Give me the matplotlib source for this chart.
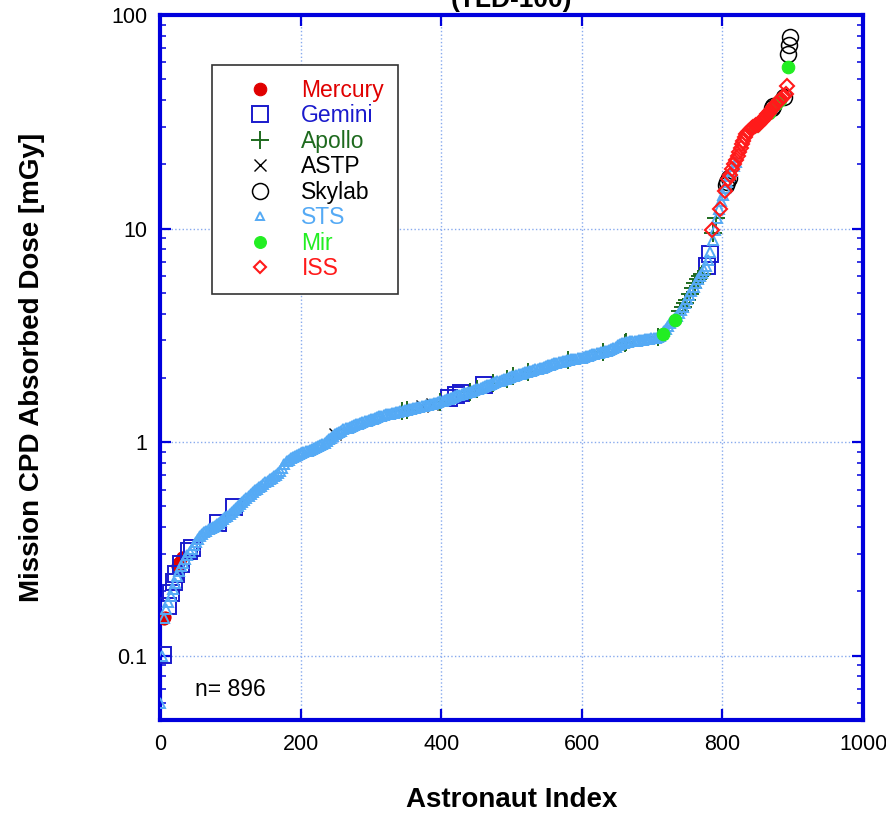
import numpy as np
import matplotlib
matplotlib.use('Agg')
import matplotlib.pyplot as plt
from matplotlib.ticker import FixedLocator, FuncFormatter, LogLocator, NullFormatter

plt.rcParams['font.family'] = ['Liberation Sans', 'DejaVu Sans']

# rangi astronautow (indeks) i dawka CPD [mGy] dla kazdego programu
mercury_idx = [5, 7, 24, 26, 28, 31]
mercury_dose = [0.148, 0.152, 0.262, 0.272, 0.278, 0.29]

gemini_idx = [4, 11, 16, 20, 23, 30, 41, 46, 83, 105, 411, 421, 428, 461, 778, 783]
gemini_dose = [0.101, 0.171, 0.197, 0.222, 0.242, 0.269, 0.31, 0.32, 0.418, 0.497,
               1.61, 1.66, 1.69, 1.85, 6.7, 7.6]

apollo_idx = [344, 351, 398, 441, 451, 474, 493, 502, 524, 580, 630, 661, 663, 708,
              740, 744, 747, 750, 754, 758, 761, 765, 768, 771, 787, 791]
apollo_dose = [1.40, 1.42, 1.54, 1.72, 1.77, 1.89, 1.98, 2.03, 2.14, 2.42, 2.65, 2.92,
               2.94, 3.10, 4.10, 4.30, 4.50, 4.65, 4.95, 5.25, 5.55, 5.80, 6.0, 6.15,
               9.5, 11.2]

astp_idx = [249, 373, 387]
astp_dose = [1.09, 1.47, 1.51]

skylab_idx = [805, 807, 809, 870, 872, 887, 894, 895, 896]
skylab_dose = [16.0, 16.6, 17.2, 36.5, 37.5, 41.5, 66.0, 72.0, 79.0]

# STS - gesta seria, co 3 indeksy
sts_dose = [
    0.060, 0.100, 0.150, 0.165, 0.178, 0.190, 0.205, 0.220, 0.235, 0.250,
    0.262, 0.273, 0.284, 0.295, 0.305, 0.317, 0.330, 0.342, 0.353, 0.362,
    0.370, 0.378, 0.385, 0.391, 0.397, 0.402, 0.407, 0.413, 0.420, 0.428,
    0.436, 0.444, 0.452, 0.460, 0.470, 0.480, 0.490, 0.500, 0.512, 0.524,
    0.536, 0.548, 0.560, 0.572, 0.584, 0.595, 0.606, 0.616, 0.626, 0.637,
    0.648, 0.659, 0.670, 0.681, 0.693, 0.705, 0.718, 0.735, 0.760, 0.790,
    0.812, 0.828, 0.842, 0.853, 0.863, 0.872, 0.881, 0.889, 0.897, 0.905,
    0.913, 0.921, 0.930, 0.939, 0.949, 0.959, 0.970, 0.982, 0.995, 1.01,
    1.03, 1.05, 1.07, 1.09, 1.10, 1.12, 1.13, 1.15, 1.16, 1.17,
    1.18, 1.19, 1.20, 1.21, 1.22, 1.23, 1.24, 1.25, 1.26, 1.27,
    1.28, 1.29, 1.30, 1.31, 1.32, 1.33, 1.34, 1.35, 1.355, 1.36,
    1.37, 1.375, 1.38, 1.39, 1.40, 1.405, 1.41, 1.42, 1.425, 1.43,
    1.44, 1.45, 1.455, 1.46, 1.47, 1.48, 1.49, 1.50, 1.505, 1.51,
    1.52, 1.53, 1.54, 1.55, 1.56, 1.57, 1.585, 1.60, 1.615, 1.63,
    1.645, 1.66, 1.67, 1.68, 1.69, 1.70, 1.71, 1.72, 1.735, 1.75,
    1.765, 1.78, 1.795, 1.81, 1.83, 1.845, 1.86, 1.875, 1.89, 1.91,
    1.925, 1.94, 1.955, 1.97, 1.985, 2.00, 2.015, 2.03, 2.045, 2.06,
    2.075, 2.09, 2.105, 2.12, 2.135, 2.15, 2.16, 2.175, 2.19, 2.205,
    2.22, 2.235, 2.25, 2.27, 2.29, 2.305, 2.32, 2.335, 2.35, 2.365,
    2.38, 2.395, 2.41, 2.42, 2.43, 2.44, 2.45, 2.46, 2.47, 2.48,
    2.49, 2.50, 2.52, 2.54, 2.56, 2.575, 2.59, 2.605, 2.62, 2.635,
    2.65, 2.665, 2.68, 2.70, 2.73, 2.76, 2.80, 2.84, 2.87, 2.90,
    2.92, 2.935, 2.95, 2.96, 2.97, 2.98, 2.99, 3.00, 3.01, 3.02,
    3.03, 3.04, 3.05, 3.06, 3.07, 3.08, 3.10, 3.14, 3.20, 3.30,
    3.40, 3.50, 3.60, 3.70, 3.80, 3.90, 4.02, 4.15, 4.30, 4.48,
    4.68, 4.90, 5.12, 5.35, 5.58, 5.80, 6.00, 6.18, 6.38, 6.65,
    7.10, 7.80, 8.80, 9.90, 11.2, 12.4, 13.4, 14.4, 15.5, 16.6,
    17.6, 18.6, 19.6, 20.5,
]
sts_idx = list(range(0, 3 * len(sts_dose), 3))

mir_idx = [716, 733, 846, 866, 876, 882, 893]
mir_dose = [3.2, 3.72, 30.2, 34.9, 38.3, 40.1, 57.0]

iss_idx = [785, 797, 803, 808, 811, 814, 817,
           820, 822, 824, 826, 828, 830, 832, 834, 836, 838, 840, 842, 844, 846,
           848, 850, 852, 854, 856, 858, 860, 862, 864, 866, 868, 870, 872, 874,
           876, 878, 880, 882, 884, 886, 888, 890, 892]
iss_dose = [9.9, 12.3, 15.0, 17.0, 17.9, 19.0, 20.0,
            21.0, 21.8, 22.8, 23.8, 24.8, 25.8, 26.8, 27.6, 28.2, 28.7, 29.1, 29.5,
            29.8, 30.1, 30.4, 30.7, 31.0, 31.4, 31.9, 32.5, 33.1, 33.7, 34.3, 34.9,
            35.5, 36.2, 36.9, 37.6, 38.3, 38.9, 39.5, 40.1, 40.6, 41.1, 41.6, 42.5,
            46.5]

n_total = 896

blue = '#0000dd'

fig = plt.figure(figsize=(8.86, 8.13), dpi=100)
ax = fig.add_axes([160 / 886, 93 / 813, 703 / 886, 705 / 813])

# kolejnosc rysowania taka jak w oryginale; ostatnia liczba to rozmiar znacznika w legendzie
series = [
    ('Mercury', mercury_idx, mercury_dose, dict(marker='o', ms=8, mfc='#e00000', mec='#e00000', mew=0.8), '#e00000', 9),
    ('Gemini', gemini_idx, gemini_dose, dict(marker='s', ms=11, mfc='none', mec='#1a1acc', mew=1.4), '#1a1acc', 11.5),
    ('Apollo', apollo_idx, apollo_dose, dict(marker='+', ms=13.5, mec='#1e6a1e', mew=1.4), '#1e6a1e', 13.5),
    ('ASTP', astp_idx, astp_dose, dict(marker='x', ms=8, mec='black', mew=1.0), 'black', 8.5),
    ('Skylab', skylab_idx, skylab_dose, dict(marker='o', ms=11.5, mfc='none', mec='black', mew=1.1), 'black', 11.5),
    ('STS', sts_idx, sts_dose, dict(marker='^', ms=6.5, mfc='none', mec='#55aaf5', mew=1.4), '#55aaf5', 5.5),
    ('Mir', mir_idx, mir_dose, dict(marker='o', ms=9, mfc='#22ee22', mec='#22ee22', mew=0.8), '#22ee22', 8.5),
    ('ISS', iss_idx, iss_dose, dict(marker='D', ms=7, mfc='none', mec='#ff1a1a', mew=1.5), '#ff1a1a', 6.5),
]

handles = []
text_colors = []
leg_sizes = []
for z, (name, xs, ys, style, tc, lsz) in enumerate(series):
    h, = ax.plot(xs, ys, linestyle='none', label=name, zorder=3 + z, **style)
    handles.append(h)
    text_colors.append(tc)
    leg_sizes.append(lsz)

ax.set_yscale('log')
ax.set_xlim(0, 1000)
ax.set_ylim(0.05, 100)

ax.xaxis.set_major_locator(FixedLocator([0, 200, 400, 600, 800, 1000]))
ax.yaxis.set_major_locator(FixedLocator([0.1, 1, 10, 100]))
ax.yaxis.set_major_formatter(FuncFormatter(lambda v, p: f'{v:g}'))
ax.yaxis.set_minor_locator(LogLocator(base=10, subs=np.arange(2, 10), numticks=20))
ax.yaxis.set_minor_formatter(NullFormatter())

ax.tick_params(which='both', direction='in', top=True, right=True, color=blue, labelsize=15.5)
ax.tick_params(which='major', length=8, width=1.6)
ax.tick_params(which='minor', length=4.5, width=1.1)
ax.tick_params(axis='x', pad=10)
ax.tick_params(axis='y', pad=9)

for s in ax.spines.values():
    s.set_color(blue)
    s.set_linewidth(3)

ax.grid(True, which='major', linestyle=':', color='#88aaee', linewidth=1.0)
ax.set_axisbelow(True)

ax.set_xlabel('Astronaut Index', fontsize=20, fontweight='bold', labelpad=23)
ax.set_ylabel('Mission CPD Absorbed Dose [mGy]', fontsize=20, fontweight='bold', labelpad=48)

ax.text(0.05, 0.043, f'n= {n_total}', transform=ax.transAxes, fontsize=16.5, va='center', ha='left')

# tytul uciety u gory jak w oryginale
fig.text(511 / 886, 1 - 7 / 813, '(TLD-100)', fontsize=19, fontweight='bold', ha='center', va='baseline')

leg = ax.legend(handles=handles, loc='upper left', bbox_to_anchor=(52 / 703, 655 / 705),
                borderaxespad=0, fontsize=16.5, numpoints=1, fancybox=False,
                framealpha=1, edgecolor='#333333', borderpad=0.6,
                handlelength=3.0, handletextpad=0.3, labelspacing=0.11)
leg.get_frame().set_linewidth(1.2)
leg.set_zorder(20)
for t, c in zip(leg.get_texts(), text_colors):
    t.set_color(c)
for lh, lsz in zip(leg.legend_handles, leg_sizes):
    lh.set_markersize(lsz)

fig.savefig('out.png', dpi=100)
